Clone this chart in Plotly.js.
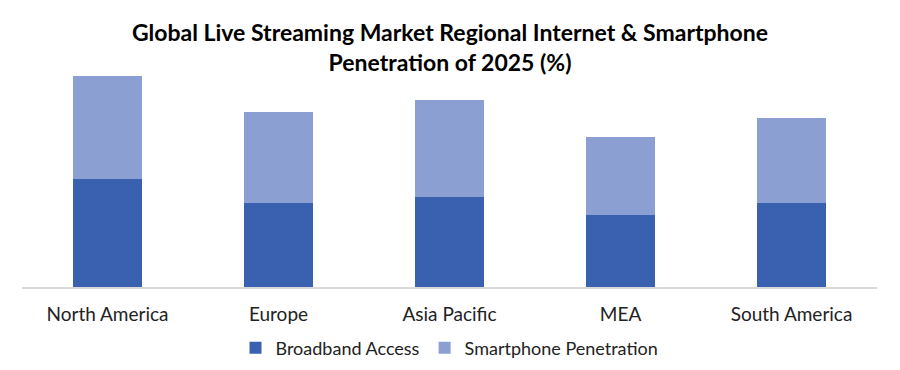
<!DOCTYPE html>
<html>
<head>
<meta charset="utf-8">
<script src="https://cdn.plot.ly/plotly-3.0.1.min.js"></script>
<style>html,body{margin:0;padding:0;background:#fff;}#chart{width:900px;height:370px;}</style>
</head>
<body>
<div id="chart"></div>
<script>
const categories = ["North America", "Europe", "Asia Pacific", "MEA", "South America"];
const broadband = [90, 70, 75, 60, 70];
const smartphone = [86, 76, 81, 65, 71];
const seriesNames = ["Broadband Access", "Smartphone Penetration"];

const traces = [
  {type: "bar", name: seriesNames[0], x: categories, y: broadband,
   marker: {color: "#3a61b0"}, width: 0.4, hoverinfo: "skip"},
  {type: "bar", name: seriesNames[1], x: categories, y: smartphone,
   marker: {color: "#8b9fd3"}, width: 0.4, hoverinfo: "skip"}
];

const layout = {
  width: 900, height: 370,
  barmode: "stack",
  paper_bgcolor: "#fff", plot_bgcolor: "#fff",
  margin: {l: 22, r: 23, t: 71, b: 83, autoexpand: false},
  title: {
    text: "<b>Global Live Streaming Market Regional Internet & Smartphone<br>Penetration of 2025 (%)</b>",
    font: {family: "Lato, 'Open Sans', sans-serif", size: 23, color: "#000"},
    x: 0.5, xanchor: "center", y: 0.89, yanchor: "top"
  },
  xaxis: {
    showline: true, linecolor: "#d9d9d9", linewidth: 2, automargin: false,
    ticks: "", showgrid: false, ticklabelstandoff: 9,
    tickfont: {family: "Lato, 'Open Sans', sans-serif", size: 19, color: "#222"}
  },
  yaxis: {range: [0, 180], visible: false, showgrid: false, zeroline: false},
  showlegend: true,
  legend: {
    orientation: "h", x: 0.5, xanchor: "center",
    yref: "container", y: 0.109, yanchor: "top",
    font: {family: "Lato, 'Open Sans', sans-serif", size: 18, color: "#222"},
    traceorder: "normal", itemwidth: 20
  }
};

Plotly.newPlot("chart", traces, layout, {displayModeBar: false, staticPlot: true});
</script>
</body>
</html>
